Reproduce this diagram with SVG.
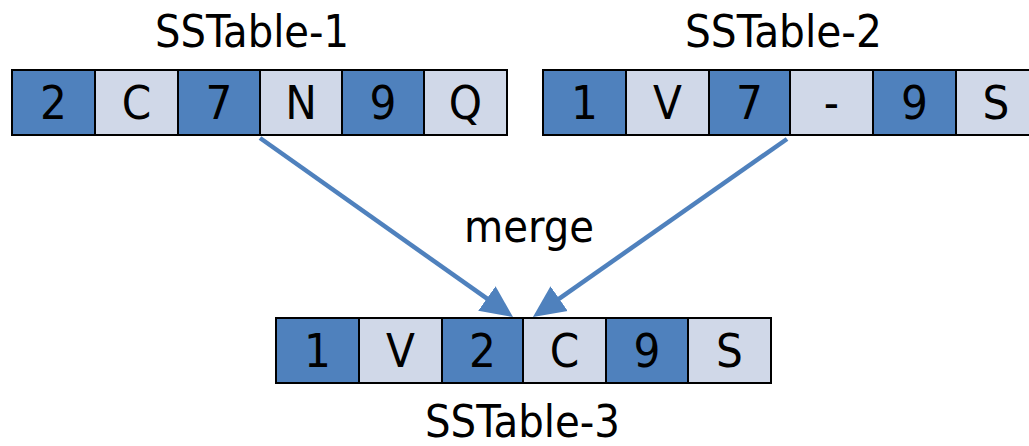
<svg xmlns="http://www.w3.org/2000/svg" width="1029" height="446" viewBox="0 0 1029 446">
  <style>
    .dark { fill: #4f81bd; stroke: #000; stroke-width: 2; }
    .light { fill: #d0d8e8; stroke: #000; stroke-width: 2; }
    .cell { font-family: "DejaVu Sans Condensed", "DejaVu Sans", sans-serif; font-size: 47px; fill: #000; text-anchor: middle; }
    .label { font-family: "DejaVu Sans Condensed", "DejaVu Sans", sans-serif; font-size: 45px; fill: #000; text-anchor: middle; }
    .conn { stroke: #4f81bd; stroke-width: 4.5; fill: none; marker-end: url(#head); }
  </style>
  <defs>
    <marker id="head" markerUnits="userSpaceOnUse" markerWidth="34" markerHeight="32" refX="2" refY="16" orient="auto" viewBox="0 0 34 32">
      <path d="M0,1 L32,16 L0,31 Z" fill="#4f81bd"/>
    </marker>
  </defs>

  <rect width="1029" height="446" fill="#fff"/>

  <!-- SSTable-1 -->
  <g id="sstable-1">
    <text class="label" x="252" y="47" textLength="194" lengthAdjust="spacingAndGlyphs">SSTable-1</text>
    <rect class="dark" x="12" y="70" width="83" height="65"/>
    <rect class="light" x="95" y="70" width="83" height="65"/>
    <rect class="dark" x="178" y="70" width="82" height="65"/>
    <rect class="light" x="260" y="70" width="82" height="65"/>
    <rect class="dark" x="342" y="70" width="82" height="65"/>
    <rect class="light" x="424" y="70" width="83" height="65"/>
    <text class="cell" x="53.5" y="119">2</text>
    <text class="cell" x="136.5" y="119">C</text>
    <text class="cell" x="219" y="119">7</text>
    <text class="cell" x="301" y="119">N</text>
    <text class="cell" x="383" y="119">9</text>
    <text class="cell" x="465.5" y="119">Q</text>
  </g>

  <!-- SSTable-2 -->
  <g id="sstable-2">
    <text class="label" x="783.5" y="47" textLength="197" lengthAdjust="spacingAndGlyphs">SSTable-2</text>
    <rect class="dark" x="543" y="70" width="83" height="65"/>
    <rect class="light" x="626" y="70" width="83" height="65"/>
    <rect class="dark" x="709" y="70" width="81" height="65"/>
    <rect class="light" x="790" y="70" width="83" height="65"/>
    <rect class="dark" x="873" y="70" width="83" height="65"/>
    <rect class="light" x="956" y="70" width="83" height="65"/>
    <text class="cell" x="584.5" y="119">1</text>
    <text class="cell" x="667.5" y="119">V</text>
    <text class="cell" x="749.5" y="119">7</text>
    <text class="cell" x="831.5" y="119">-</text>
    <text class="cell" x="914.5" y="119">9</text>
    <text class="cell" x="996" y="119">S</text>
  </g>

  <!-- SSTable-3 -->
  <g id="sstable-3">
    <rect class="dark" x="276" y="318" width="83" height="65"/>
    <rect class="light" x="359" y="318" width="83" height="65"/>
    <rect class="dark" x="442" y="318" width="81" height="65"/>
    <rect class="light" x="523" y="318" width="83" height="65"/>
    <rect class="dark" x="606" y="318" width="82" height="65"/>
    <rect class="light" x="688" y="318" width="83" height="65"/>
    <text class="cell" x="317.5" y="367">1</text>
    <text class="cell" x="400.5" y="367">V</text>
    <text class="cell" x="482.5" y="367">2</text>
    <text class="cell" x="564.5" y="367">C</text>
    <text class="cell" x="647" y="367">9</text>
    <text class="cell" x="729.5" y="367">S</text>
    <text class="label" x="522.5" y="437" font-size="41" textLength="195" lengthAdjust="spacingAndGlyphs">SSTable-3</text>
  </g>

  <!-- merge connectors -->
  <g id="connectors">
    <line class="conn" x1="260" y1="138" x2="488.5" y2="299.7"/>
    <line class="conn" x1="787" y1="139" x2="557.5" y2="299.8"/>
    <text class="label" x="529" y="242" textLength="130" lengthAdjust="spacingAndGlyphs">merge</text>
  </g>
</svg>
